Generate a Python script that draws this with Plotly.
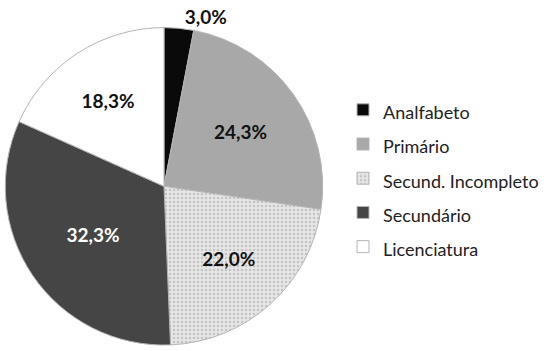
import plotly.graph_objects as go

labels = ["Analfabeto", "Primário", "Secund. Incompleto", "Secundário", "Licenciatura"]
values = [3.0, 24.3, 22.0, 32.3, 18.3]
colors = ["#0a0a0a", "#a8a8a8", "#e6e6e6", "#454545", "#ffffff"]
text_colors = ["#111111", "#111111", "#111111", "#ffffff", "#111111"]
text_pos = ["outside", "inside", "inside", "inside", "inside"]

W, H = 547, 351

fig = go.Figure(go.Pie(
    labels=[f'<span style="font-size:18px">{l}</span>' for l in labels],
    values=values,
    sort=False,
    direction="clockwise",
    rotation=0,
    marker=dict(
        colors=colors,
        line=dict(color="#b5b5b5", width=1),
        pattern=dict(
            shape=["", "", ".", "", ""],
            fgcolor=["#0a0a0a", "#a8a8a8", "#c4c4c4", "#454545", "#ffffff"],
            bgcolor=colors,
            size=4,
            solidity=0.3,
        ),
    ),
    texttemplate="%{value:.1f}%",
    textposition=text_pos,
    insidetextorientation="horizontal",
    textfont=dict(family="Lato", size=19, color=text_colors, weight="bold"),
    outsidetextfont=dict(family="Lato", size=19, color="#111111", weight="bold"),
    domain=dict(x=[5 / W, 323 / W], y=[1 / H, 323 / H]),
    hoverinfo="label+percent",
))

fig.update_layout(
    width=W, height=H,
    margin=dict(l=0, r=0, t=0, b=0),
    paper_bgcolor="white",
    plot_bgcolor="white",
    separators=",.",
    showlegend=True,
    legend=dict(
        x=343 / W, y=(H - 89) / H, xanchor="left", yanchor="top",
        font=dict(family="Lato", size=24, color="#222222"),
        itemwidth=30,
        bgcolor="rgba(0,0,0,0)",
    ),
)

fig.write_html("out.html")
